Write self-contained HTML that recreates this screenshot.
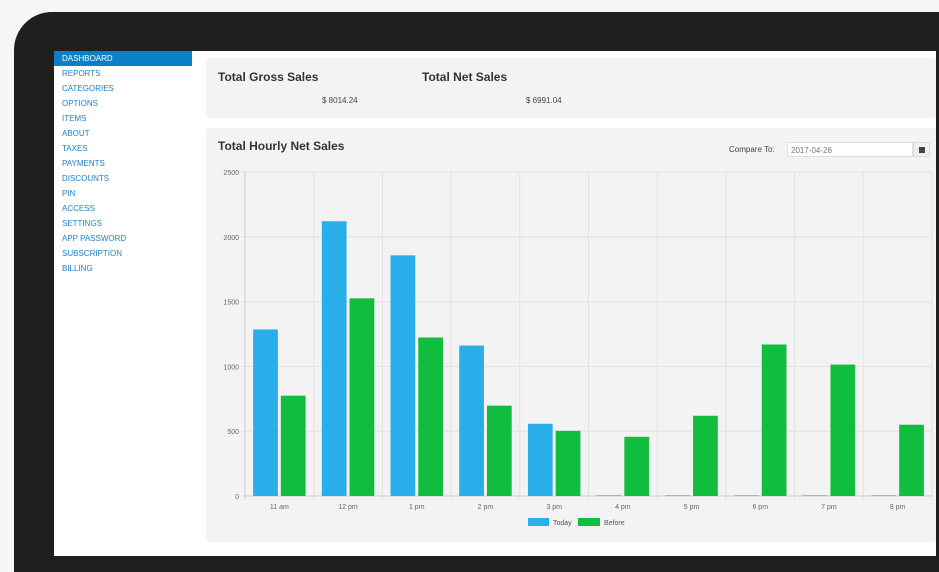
<!DOCTYPE html>
<html><head><meta charset="utf-8"><style>
body{margin:0;width:939px;height:559px;overflow:hidden;background:#f6f6f6;font-family:"Liberation Sans",sans-serif;position:relative}
.abs{position:absolute}
.nav{position:absolute;left:62px;font-size:8px;color:#1f7fc4;letter-spacing:0}
</style></head><body>
<div class="abs" style="left:14px;top:12px;width:940px;height:560px;background:#1f1f1f;border-radius:38px 0 0 0"></div>
<div class="abs" style="left:54px;top:51px;width:882px;height:505px;background:#fff"></div>
<div class="abs" style="left:54px;top:51px;width:138px;height:505px;background:#fff"></div>
<div class="abs" style="left:54px;top:51px;width:138px;height:15px;background:#0b7fc7"></div>
<div id="navs"></div>
<div class="abs" style="left:206px;top:58px;width:730px;height:60px;background:#f3f3f3;border-radius:3px"></div>
<div class="abs" style="left:218px;top:70px;font-size:12px;font-weight:bold;color:#333">Total Gross Sales</div>
<div class="abs" style="left:322px;top:96px;font-size:8px;color:#444">$ 8014.24</div>
<div class="abs" style="left:422px;top:70px;font-size:12px;font-weight:bold;color:#333">Total Net Sales</div>
<div class="abs" style="left:526px;top:96px;font-size:8px;color:#444">$ 6991.04</div>
<div class="abs" style="left:206px;top:128px;width:730px;height:414px;background:#f3f3f3;border-radius:3px"></div>
<div class="abs" style="left:218px;top:139px;font-size:12px;font-weight:bold;color:#333">Total Hourly Net Sales</div>
<div class="abs" style="left:729px;top:145px;font-size:8px;color:#444">Compare To:</div>
<div class="abs" style="left:787px;top:142px;width:126px;height:15px;background:#fff;border:1px solid #ddd;font-size:8px;color:#777;line-height:15px;padding-left:3px;box-sizing:border-box">2017-04-26</div>
<div class="abs" style="left:913px;top:142px;width:17px;height:15px;background:#eee;border:1px solid #ddd;box-sizing:border-box"><div style="margin:4px 0 0 5px;width:6px;height:6px;background:#444"></div></div>
<svg class="abs" style="left:0;top:0" width="939" height="559" id="chart"></svg>
<script>
const navItems=["DASHBOARD","REPORTS","CATEGORIES","OPTIONS","ITEMS","ABOUT","TAXES","PAYMENTS","DISCOUNTS","PIN","ACCESS","SETTINGS","APP PASSWORD","SUBSCRIPTION","BILLING"];
const nv=document.getElementById('navs');
navItems.forEach((t,i)=>{const d=document.createElement('div');d.className='nav';d.style.top=(54+i*15)+'px';if(i==0)d.style.color='#fff';d.textContent=t;


nv.appendChild(d);});

const categories=["11 am","12 pm","1 pm","2 pm","3 pm","4 pm","5 pm","6 pm","7 pm","8 pm"];
const todayValues=[1285,2120,1857,1161,557,5,5,5,5,5];
const beforeValues=[774,1525,1223,697,503,457,619,1169,1014,550];
const yTicks=[0,500,1000,1500,2000,2500];
const x0=245,x1=932,y0=496,y1=172,yMax=2500;
const cw=(x1-x0)/categories.length;
const ys=v=>y0-(v/yMax)*(y0-y1);
const svg=document.getElementById('chart');
const NS='http://www.w3.org/2000/svg';
function mk(tag,a,name){const e=document.createElementNS(NS,tag);for(const k in a)e.setAttribute(k,a[k]);


svg.appendChild(e);return e;}
yTicks.forEach(t=>{const y=ys(t);mk('line',{x1:x0-4,x2:x1,y1:y,y2:y,stroke:'#e2e2e2','stroke-width':1},'y-gridline');
const tx=mk('text',{x:x0-6,y:y+3,'font-size':7,fill:'#666','text-anchor':'end','font-family':'Liberation Sans'},'y-tick-label');tx.textContent=t;});
for(let i=0;i<=categories.length;i++){const x=x0+i*cw;mk('line',{x1:x,x2:x,y1:y1,y2:y0+4,stroke:i==0?'#ccc':'#e2e2e2','stroke-width':1},'x-gridline');}
mk('line',{x1:x0,x2:x1,y1:y0,y2:y0,stroke:'#ccc','stroke-width':1},'x-axis');
const bw=cw*0.36,gap=3,off=(cw-2*bw-gap)/2;
categories.forEach((c,i)=>{const gx=x0+i*cw;
mk('rect',{x:gx+off,y:ys(todayValues[i]),width:bw,height:y0-ys(todayValues[i]),fill:'#29aeea'},'bar-today');
mk('rect',{x:gx+off+bw+gap,y:ys(beforeValues[i]),width:bw,height:y0-ys(beforeValues[i]),fill:'#10bd3e'},'bar-before');
const t=mk('text',{x:gx+cw/2,y:509,'font-size':7,fill:'#666','text-anchor':'middle','font-family':'Liberation Sans'},'x-tick-label');t.textContent=c;});
mk('rect',{x:528,y:518,width:21,height:8,fill:'#29aeea'},'legend-swatch-today');
let l=mk('text',{x:553,y:525,'font-size':7,fill:'#555','font-family':'Liberation Sans'},'legend-label-today');l.textContent='Today';
mk('rect',{x:578,y:518,width:22,height:8,fill:'#10bd3e'},'legend-swatch-before');
l=mk('text',{x:604,y:525,'font-size':7,fill:'#555','font-family':'Liberation Sans'},'legend-label-before');l.textContent='Before';
</script>
</body></html>
